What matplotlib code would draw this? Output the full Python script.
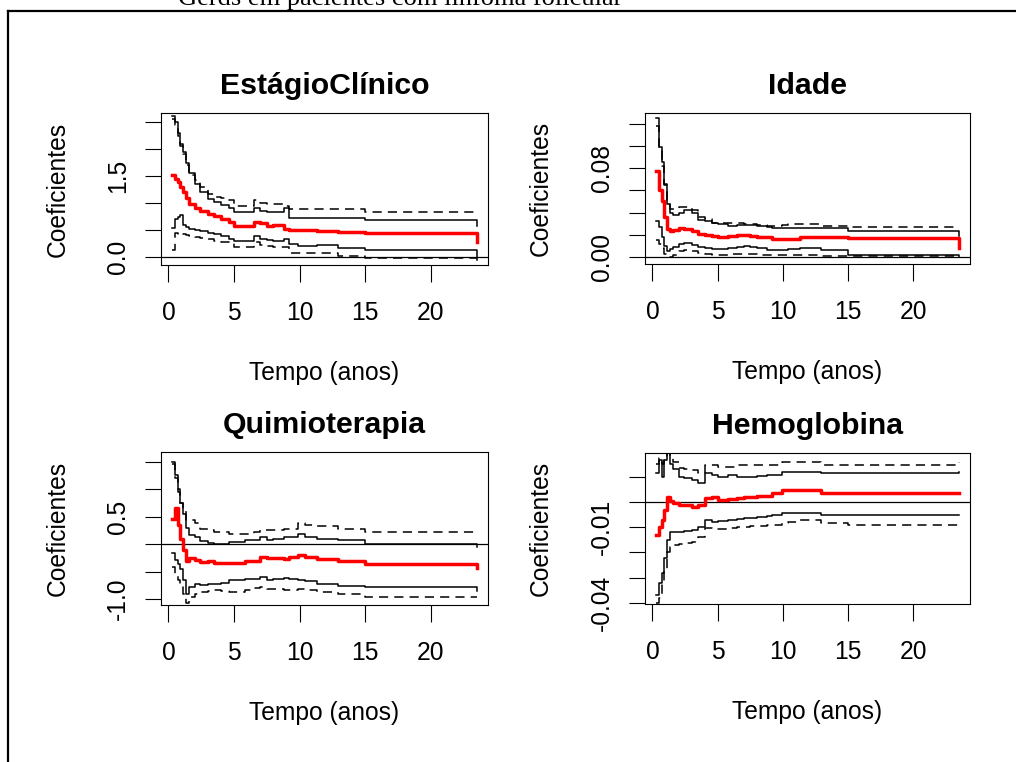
import matplotlib
matplotlib.use("Agg")
import matplotlib.pyplot as plt
from matplotlib.lines import Line2D

plt.rcParams['font.family'] = ['Liberation Sans', 'DejaVu Sans']

# ---------------- data ----------------
caption = "Gerds em pacientes com linfoma folicular"
titles = ["EstágioClínico", "Idade", "Quimioterapia", "Hemoglobina"]
xlabel = "Tempo (anos)"
ylabel = "Coeficientes"

# common jump times (years)
times = [0.3, 0.5, 0.7, 0.9, 1.1, 1.35, 1.6, 2.0, 2.4, 3.0, 3.5, 4.0, 4.6, 5.0,
         5.8, 6.5, 7.0, 7.5, 8.0, 8.8, 9.2, 9.9, 10.4, 11.3, 12.9, 15.0, 23.5]

# Panel 1: EstágioClínico
est1 = [1.52, 1.45, 1.38, 1.30, 1.20, 1.10, 0.98, 0.90, 0.85, 0.80, 0.76, 0.70, 0.64, 0.57,
        0.57, 0.64, 0.63, 0.57, 0.60, 0.52, 0.50, 0.50, 0.50, 0.49, 0.47, 0.44, 0.28]
hi1 = [2.62, 2.50, 2.30, 2.10, 1.95, 1.75, 1.55, 1.35, 1.20, 1.08, 1.02, 0.96, 0.91, 0.84,
       0.84, 0.91, 0.86, 0.84, 0.84, 0.90, 0.73, 0.73, 0.73, 0.73, 0.73, 0.69, 0.57]
lo1 = [0.53, 0.70, 0.75, 0.78, 0.60, 0.55, 0.52, 0.50, 0.48, 0.45, 0.42, 0.39, 0.34, 0.30,
       0.30, 0.38, 0.34, 0.32, 0.30, 0.33, 0.24, 0.21, 0.21, 0.23, 0.17, 0.13, -0.06]
bhi1 = [2.55, 2.45, 2.25, 2.05, 1.90, 1.70, 1.52, 1.43, 1.30, 1.16, 1.12, 1.10, 1.05, 0.95,
        0.95, 1.05, 1.00, 0.98, 0.98, 0.95, 0.89, 0.89, 0.89, 0.89, 0.89, 0.83, 0.83]
blo1 = [0.13, 0.44, 0.42, 0.45, 0.42, 0.40, 0.39, 0.37, 0.36, 0.33, 0.30, 0.28, 0.27, 0.18,
        0.18, 0.27, 0.23, 0.21, 0.19, 0.18, 0.07, 0.07, 0.07, 0.07, 0.02, -0.02, -0.02]

# Panel 2: Idade
est2 = [0.077, 0.060, 0.050, 0.036, 0.025, 0.023, 0.024, 0.026, 0.025, 0.023, 0.021, 0.020, 0.019, 0.018,
        0.019, 0.020, 0.020, 0.019, 0.018, 0.018, 0.016, 0.016, 0.016, 0.018, 0.018, 0.017, 0.008]
hi2 = [0.125, 0.099, 0.085, 0.065, 0.048, 0.040, 0.038, 0.040, 0.042, 0.040, 0.033, 0.032, 0.031, 0.030,
       0.028, 0.029, 0.029, 0.029, 0.028, 0.027, 0.026, 0.026, 0.026, 0.026, 0.026, 0.023, 0.019]
lo2 = [0.032, 0.027, 0.018, 0.010, 0.005, 0.007, 0.009, 0.012, 0.013, 0.011, 0.009, 0.008, 0.007, 0.007,
       0.008, 0.009, 0.010, 0.009, 0.008, 0.006, 0.006, 0.006, 0.007, 0.008, 0.006, 0.002, 0.000]
bhi2 = [0.118, 0.095, 0.082, 0.066, 0.050, 0.043, 0.043, 0.045, 0.045, 0.042, 0.036, 0.034, 0.031, 0.031,
        0.031, 0.031, 0.030, 0.030, 0.029, 0.028, 0.028, 0.029, 0.030, 0.030, 0.028, 0.027, 0.027]
blo2 = [0.015, 0.012, 0.008, 0.003, 0.001, 0.000, 0.002, 0.005, 0.006, 0.005, 0.004, 0.003, 0.002, 0.002,
        0.003, 0.003, 0.003, 0.003, 0.002, 0.002, 0.002, 0.002, 0.002, 0.002, 0.001, 0.0006, 0.0005]

# Panel 3: Quimioterapia
est3 = [0.45, 0.66, 0.35, 0.10, -0.10, -0.30, -0.26, -0.29, -0.32, -0.30, -0.34, -0.34, -0.34, -0.34,
        -0.31, -0.30, -0.23, -0.25, -0.26, -0.27, -0.24, -0.20, -0.23, -0.27, -0.31, -0.36, -0.44]
hi3 = [1.50, 1.25, 1.00, 0.75, 0.55, 0.30, 0.16, 0.13, 0.06, 0.02, 0.00, 0.00, 0.04, 0.04,
       0.08, 0.08, 0.13, 0.07, 0.10, 0.13, 0.13, 0.19, 0.13, 0.10, 0.07, 0.00, -0.05]
lo3 = [-0.17, -0.29, -0.36, -0.45, -0.65, -0.90, -0.78, -0.72, -0.75, -0.72, -0.72, -0.70, -0.66, -0.66,
       -0.63, -0.63, -0.60, -0.66, -0.63, -0.61, -0.63, -0.66, -0.68, -0.72, -0.77, -0.78, -0.85]
bhi3 = [1.45, 1.20, 0.95, 0.75, 0.60, 0.44, 0.44, 0.38, 0.28, 0.25, 0.22, 0.22, 0.19, 0.19,
        0.19, 0.22, 0.25, 0.25, 0.26, 0.28, 0.28, 0.38, 0.35, 0.32, 0.28, 0.22, 0.20]
blo3 = [-0.42, -0.55, -0.65, -0.78, -0.90, -1.08, -0.96, -0.90, -0.87, -0.85, -0.84, -0.86, -0.87, -0.87,
        -0.84, -0.80, -0.78, -0.81, -0.82, -0.84, -0.83, -0.81, -0.84, -0.87, -0.90, -0.96, -0.97]

# Panel 4: Hemoglobina
est4 = [-0.0131, -0.0098, -0.0071, -0.0032, 0.0021, 0.0005, -0.0005, -0.0012, -0.0012, -0.0018, -0.0012,
        0.0015, 0.0021, 0.0007, 0.0013, 0.0015, 0.0020, 0.0020, 0.0022, 0.0025, 0.0034, 0.0048, 0.0048,
        0.0048, 0.0037, 0.0037, 0.0037]
hi4 = [0.0114, 0.0166, 0.0100, 0.0166, 0.0193, 0.0150, 0.0130, 0.0100, 0.0095, 0.0087, 0.0074,
       0.0114, 0.0105, 0.0100, 0.0105, 0.0100, 0.0100, 0.0100, 0.0103, 0.0105, 0.0108, 0.0120, 0.0120,
       0.0120, 0.0114, 0.0114, 0.0120]
lo4 = [-0.0368, -0.0322, -0.0282, -0.0220, -0.0150, -0.0118, -0.0118, -0.0118, -0.0115, -0.0111, -0.0098,
       -0.0071, -0.0078, -0.0076, -0.0072, -0.0068, -0.0065, -0.0062, -0.0060, -0.0055, -0.0051, -0.0042,
       -0.0042, -0.0042, -0.0051, -0.0051, -0.0051]
bhi4 = [0.0150, 0.0175, 0.0150, 0.0180, 0.0193, 0.0175, 0.0160, 0.0133, 0.0130, 0.0127, 0.0114,
        0.0147, 0.0147, 0.0140, 0.0140, 0.0147, 0.0147, 0.0147, 0.0147, 0.0147, 0.0147, 0.0160, 0.0160,
        0.0160, 0.0147, 0.0147, 0.0160]
blo4 = [-0.0401, -0.0380, -0.0330, -0.0270, -0.0200, -0.0177, -0.0170, -0.0166, -0.0162, -0.0158, -0.0137,
        -0.0104, -0.0108, -0.0105, -0.0102, -0.0100, -0.0098, -0.0096, -0.0094, -0.0092, -0.0091, -0.0085,
        -0.0080, -0.0071, -0.0085, -0.0091, -0.0091]

xticks = [0, 5, 10, 15, 20]
xticklabels = ["0", "5", "10", "15", "20"]
yticks1 = [0.0, 0.5, 1.0, 1.5, 2.0, 2.5]
yticklabels1 = ["0.0", "", "", "1.5", "", ""]
yticks2 = [0.00, 0.02, 0.04, 0.06, 0.08, 0.10, 0.12]
yticklabels2 = ["0.00", "", "", "", "0.08", "", ""]
yticks3 = [-1.0, -0.5, 0.0, 0.5, 1.0, 1.5]
yticklabels3 = ["-1.0", "", "", "0.5", "", ""]
yticks4 = [-0.04, -0.03, -0.02, -0.01, 0.00, 0.01]
yticklabels4 = ["-0.04", "", "", "-0.01", "", ""]

# ---------------- figure ----------------
W, H = 1016, 762
fig = plt.figure(figsize=(W / 100, H / 100), dpi=100)


def fx(px):
    return px / W


def fy(py):
    return 1 - py / H


panels = [
    dict(title=titles[0], box=(161, 113, 488, 265), ylim=(-0.148, 2.667), ylab_x=58,
         yt=yticks1, ytl=yticklabels1, est=est1, hi=hi1, lo=lo1, bhi=bhi1, blo=blo1),
    dict(title=titles[1], box=(645, 113, 970, 264), ylim=(-0.0063, 0.1295), ylab_x=541,
         yt=yticks2, ytl=yticklabels2, est=est2, hi=hi2, lo=lo2, bhi=bhi2, blo=blo2),
    dict(title=titles[2], box=(161, 452, 488, 605), ylim=(-1.109, 1.673), ylab_x=58,
         yt=yticks3, ytl=yticklabels3, est=est3, hi=hi3, lo=lo3, bhi=bhi3, blo=blo3),
    dict(title=titles[3], box=(645, 453, 970, 604), ylim=(-0.0404, 0.0194), ylab_x=541,
         yt=yticks4, ytl=yticklabels4, est=est4, hi=hi4, lo=lo4, bhi=bhi4, blo=blo4),
]

FS = 17.7
for p in panels:
    x0, y0, x1, y1 = p["box"]
    ax = fig.add_axes([fx(x0), fy(y1), fx(x1) - fx(x0), fy(y0) - fy(y1)])
    ax.set_xlim(-0.57, 24.35)
    ax.set_ylim(*p["ylim"])
    ax.axhline(0, color="black", lw=0.9, zorder=1)
    for key in ("hi", "lo"):
        ax.step(times, p[key], where="post", color="black", lw=1.1, zorder=2)
    for key in ("bhi", "blo"):
        ax.step(times, p[key], where="post", color="black", lw=1.1,
                dashes=(6.0, 4.0), zorder=2)
    ax.step(times, p["est"], where="post", color="red", lw=2.5, zorder=3)

    for s in ax.spines.values():
        s.set_linewidth(0.8)
    ax.set_xticks(xticks)
    ax.set_xticklabels(xticklabels)
    ax.set_yticks(p["yt"])
    ax.set_yticklabels(p["ytl"])
    ax.tick_params(axis="x", length=12.2, width=0.8, pad=14, labelsize=FS)
    ax.tick_params(axis="y", length=11.5, width=0.8, pad=11, labelsize=FS,
                   labelrotation=90)
    for lab in ax.get_yticklabels():
        lab.set_va("center")
    bw = x1 - x0
    bh = y1 - y0
    ax.set_xlabel(xlabel, fontsize=FS, va="center")
    ax.xaxis.set_label_coords(0.5, -(373 - 265) / bh)
    ax.set_ylabel(ylabel, fontsize=FS, va="center")
    ax.yaxis.set_label_coords((p["ylab_x"] - x0) / bw, 0.5)
    ax.set_title(p["title"], fontsize=21.8, fontweight="bold", y=1 + 27 / bh, pad=0, va="center")

# outer border (document frame)
fig.add_artist(Line2D([fx(8), fx(1016)], [fy(10.5), fy(10.5)], color="black", lw=1.6,
                      transform=fig.transFigure))
fig.add_artist(Line2D([fx(8), fx(8)], [fy(10.5), fy(762)], color="black", lw=1.6,
                      transform=fig.transFigure))
fig.text(fx(178), fy(5), caption, family=["Liberation Serif", "DejaVu Serif"],
         fontsize=19, ha="left", va="baseline")

fig.savefig("out.png", dpi=100)
